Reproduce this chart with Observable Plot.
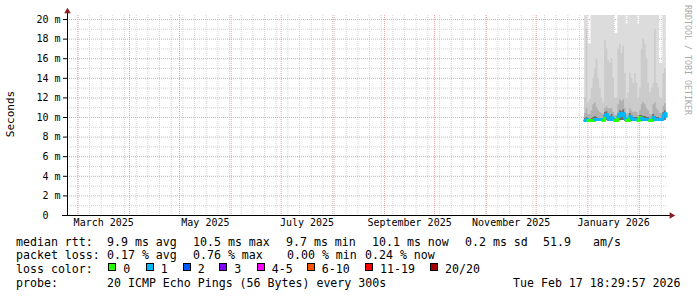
<!DOCTYPE html>
<html><head><meta charset="utf-8">
<script src="https://cdn.jsdelivr.net/npm/d3@7"></script>
<script src="https://cdn.jsdelivr.net/npm/@observablehq/plot@0.6"></script>
<style>
html,body{margin:0;padding:0;background:#fff;}
body{width:697px;height:297px;overflow:hidden;position:relative;font-family:"DejaVu Sans Mono",monospace;}
#chart{position:absolute;left:0;top:0;}
.t{position:absolute;white-space:pre;font-size:11.6px;line-height:14px;color:#000;}
.sq{position:absolute;width:6px;height:6px;border:1px solid #000;}
#ylab{position:absolute;left:10px;top:113.5px;transform:translate(-50%,-50%) rotate(-90deg);font-size:11px;white-space:pre;color:#000;}
#credit{position:absolute;left:683px;top:5px;writing-mode:vertical-rl;font-size:8.3px;line-height:9px;color:#aaa;white-space:pre;}
</style></head><body>
<div id="chart"></div>
<div id="ylab">Seconds</div>
<div id="credit">RRDTOOL / TOBI OETIKER</div>
<div id="legend"></div>
<script>
// ---- data (one value per day, Dec 30 2025 .. Feb 17 2026) ----
const firstDay = new Date(2025, 11, 30);
const lastDay = new Date(2026, 1, 17);
const medianMs = [9.7,9.8,9.7,9.7,9.7,9.7,9.8,9.8,9.8,9.8,
                  9.8,9.7,10.2,10.3,9.9,9.8,10.0,9.8,9.7,9.7,
                  10.1,10.4,10.2,10.4,9.9,9.7,9.7,10.1,9.9,9.8,
                  9.8,9.8,9.7,10.0,9.9,9.8,9.8,9.8,9.8,9.7,
                  9.7,10.0,9.8,9.8,9.8,9.8,9.8,10.2,10.4,10.1];
const lossCount = [1,1,0,0,0,0,1,1,1,1,
                   1,0,1,1,1,1,1,1,0,0,
                   1,1,1,1,1,0,0,1,1,1,
                   1,1,0,0,1,1,1,1,1,0,
                   0,1,1,1,1,1,1,1,1,1];
const minMs = [9.5,9.6,9.5,9.5,9.5,9.5,9.6,9.6,9.6,9.6,
               9.6,9.5,9.7,9.7,9.6,9.6,9.6,9.6,9.5,9.5,
               9.6,9.7,9.7,9.7,9.6,9.5,9.5,9.6,9.6,9.6,
               9.6,9.6,9.5,9.6,9.6,9.6,9.6,9.6,9.6,9.5,
               9.5,9.6,9.6,9.6,9.6,9.6,9.6,9.7,9.7,9.6];
const p60Ms = [9.9,10.0,9.8,9.8,9.9,10.0,10.1,10.0,9.9,9.9,
               9.9,9.8,10.5,10.6,10.2,10.1,10.3,10.0,9.8,9.8,
               10.4,10.7,10.6,10.8,10.2,9.8,9.8,10.4,10.2,10.0,
               10.0,10.0,9.8,10.2,10.2,10.1,10.1,10.0,10.0,9.8,
               9.8,10.3,10.1,10.0,10.0,9.9,9.9,10.5,10.7,10.4];
const q3Ms = [10.4,10.9,10.3,10.3,10.7,11.3,11.5,11.0,10.7,10.5,
              10.4,10.3,10.9,11.1,10.9,10.9,10.9,10.5,10.2,10.2,
              11.3,11.8,11.6,11.8,10.9,10.3,10.4,10.9,10.7,10.5,
              10.6,10.5,10.2,10.7,11.3,11.5,11.3,10.9,10.7,10.3,
              10.3,11.3,11.5,10.9,10.7,10.4,10.4,11.1,11.4,10.9];
const p90Ms = [12.0,19.0,11.5,11.8,13.0,14.0,15.0,16.0,14.0,13.0,
               12.0,11.5,17.8,17.0,15.8,15.5,16.0,14.0,12.0,12.0,
               17.0,17.5,16.5,17.3,14.5,12.0,12.5,14.5,14.0,13.5,
               14.5,13.5,12.0,13.0,17.0,18.0,17.5,16.0,13.5,12.5,
               13.0,13.5,19.0,13.5,13.0,12.0,12.0,14.5,15.0,14.5];
const maxMs = [22,22,17.5,17.5,22,22,22,22,22,22,
               22,22,22,22,22,22,22,22,18.6,18.6,
               22,22,22,22,22,19.5,22,22,22,22,
               22,22,19.5,22,22,22,22,22,22,22,
               22,22,22,22,22,15.5,15.5,22,22,22];

const lossLabels = ["0","1","2","3","4-5","6-10","11-19","20/20"];
const lossColors = ["#26ff00","#00b8ff","#0059ff","#7e00ff","#ff00ff","#ff5500","#ff0000","#a10000"];

const yTicks = [0,2,4,6,8,10,12,14,16,18,20];
const yTickLabels = ["0\u00a0\u00a0","2 m","4 m","6 m","8 m","10 m","12 m","14 m","16 m","18 m","20 m"];
const yMinorTicks = [1,3,5,7,9,11,13,15,17,19];
const xLabelMonths = [new Date(2025,2,1),new Date(2025,4,1),new Date(2025,6,1),new Date(2025,8,1),new Date(2025,10,1),new Date(2026,0,1)];
const xTickLabels = ["March 2025","May 2025","July 2025","September 2025","November 2025","January 2026"];

const statsRtt = ["median rtt:","9.9 ms avg","10.5 ms max","9.7 ms min","10.1 ms now","0.2 ms sd","51.9","am/s"];
const statsLoss = ["packet loss:","0.17 % avg","0.76 % max","0.00 % min","0.24 % now"];
const probeText = ["probe:","20 ICMP Echo Pings (56 Bytes) every 300s","Tue Feb 17 18:29:57 2026"];
const lossTitle = "loss color:";

// ---- build ----
const xDomain = [new Date(2025,1,22,18,30), new Date(2026,1,17,18,30)];
const dates = d3.timeDay.range(firstDay, d3.timeDay.offset(lastDay, 1));
const rows = dates.map((date, i) => ({
  date, median: medianMs[i], loss: lossCount[i], min: minMs[i],
  p60: p60Ms[i], q3: q3Ms[i], p90: p90Ms[i], max: maxMs[i]
}));
const majorMonths = d3.timeMonth.range(xDomain[0], xDomain[1]);
const minorWeeks = d3.timeSaturday.range(xDomain[0], xDomain[1]);
const mid = d => new Date((+d + +d3.timeMonth.offset(d, 1)) / 2);

const chart = Plot.plot({
  width: 697, height: 232,
  marginLeft: 67, marginRight: 30, marginTop: 15, marginBottom: 17,
  style: {fontFamily: "DejaVu Sans Mono", fontSize: "10px", background: "#fff", color: "#000", overflow: "visible"},
  x: {type: "time", domain: xDomain, axis: null},
  y: {domain: [0, 20.41], axis: null},
  marks: [
    Plot.gridX(minorWeeks, {stroke: "#d4d4d4", strokeOpacity: 1, strokeDasharray: "1,1"}),
    Plot.gridY(yMinorTicks, {stroke: "#d4d4d4", strokeOpacity: 1, strokeDasharray: "1,1"}),
    Plot.gridX(majorMonths, {stroke: "#e8a4a4", strokeOpacity: 1, strokeDasharray: "1,1"}),
    Plot.gridY(yTicks.filter(v => v > 0), {stroke: "#e8a4a4", strokeOpacity: 1, strokeDasharray: "1,1"}),
    Plot.areaY(rows, {x: "date", y1: "min", y2: "max", fill: "#dcdcdc", curve: "step-after", clip: true}),
    Plot.areaY(rows, {x: "date", y1: "min", y2: "p90", fill: "#cbcbcb", curve: "step-after", clip: true}),
    Plot.areaY(rows, {x: "date", y1: "min", y2: "q3", fill: "#b0b0b0", curve: "step-after", clip: true}),
    Plot.areaY(rows, {x: "date", y1: "min", y2: "p60", fill: "#6e6e6e", curve: "step-after", clip: true}),
    Plot.line(rows, {x: "date", y: "median", z: null, stroke: d => lossColors[d.loss], strokeWidth: 3, curve: "step-after"}),
    Plot.ruleX([xDomain[0]], {stroke: "#000", insetTop: -5}),
    Plot.ruleY([0], {stroke: "#000", insetLeft: -5, insetRight: -3}),
    Plot.dot([xDomain[0]], {x: d => d, frameAnchor: "top", dy: -4, symbol: "triangle", r: 2.4, fill: "#8a1c1c", stroke: null}),
    Plot.dot([0], {y: d => d, frameAnchor: "right", dx: 4, symbol: "triangle", rotate: 90, r: 2.4, fill: "#8a1c1c", stroke: null}),
    Plot.axisY(yTicks, {anchor: "left", tickSize: 4, tickPadding: 3, label: null,
      tickFormat: d => yTickLabels[yTicks.indexOf(d)]}),
    Plot.text(xLabelMonths, {x: d => mid(d), text: (d, i) => xTickLabels[i], frameAnchor: "bottom", dy: 10.5, fontSize: 10})
  ]
});
document.getElementById("chart").append(chart);

// ---- legend ----
const legend = document.getElementById("legend");
function addText(str, left, top) {
  const el = document.createElement("div");
  el.className = "t"; el.textContent = str;
  el.style.left = left + "px"; el.style.top = top + "px";
  legend.append(el);
}
const rttX = [16,107,193,286,372,465,543,593];
statsRtt.forEach((s, i) => addText(s, rttX[i], 234.5));
const lossX = [16,107,193,287,365];
statsLoss.forEach((s, i) => addText(s, lossX[i], 248));
addText(lossTitle, 16, 262);
const sqX = [108.3,145.7,182.7,219.3,256.7,306.7,365,430];
lossLabels.forEach((lab, i) => {
  const sq = document.createElement("div");
  sq.className = "sq"; sq.style.background = lossColors[i];
  sq.style.left = sqX[i] + "px"; sq.style.top = "263px";
  legend.append(sq);
  addText(lab, sqX[i] + 15, 262);
});
const probeX = [16,107,513];
probeText.forEach((s, i) => addText(s, probeX[i], 275.7));
</script>
</body></html>
